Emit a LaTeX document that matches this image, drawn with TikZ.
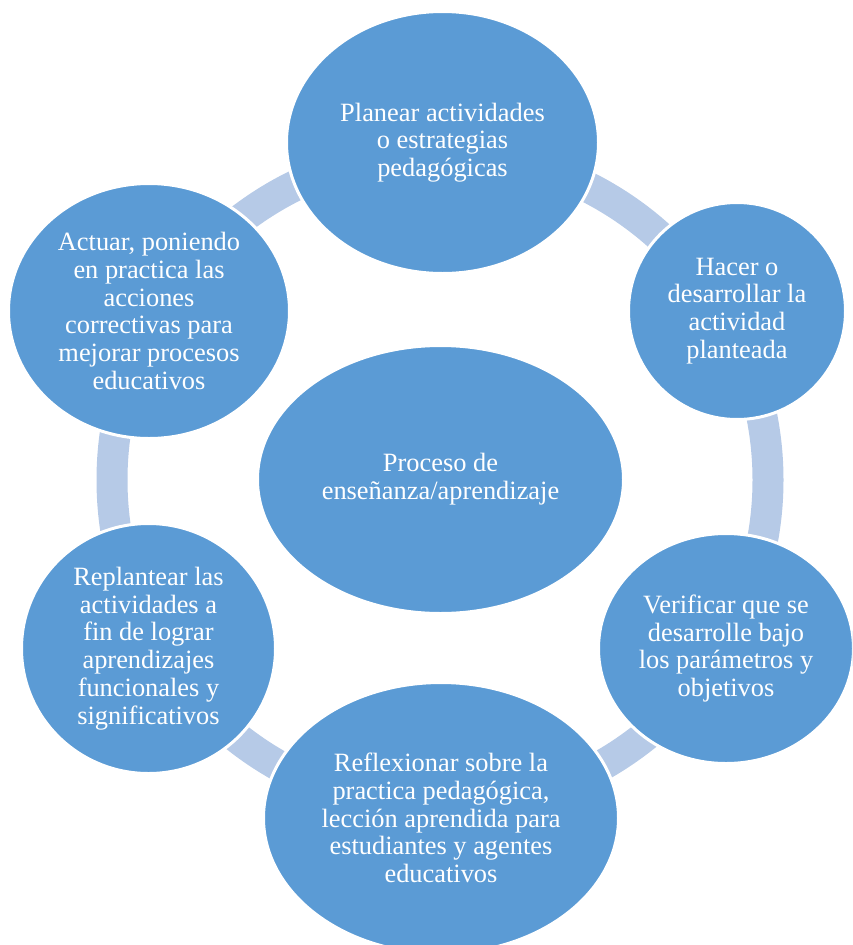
\documentclass[tikz,border=0pt]{standalone}
\usepackage{fontspec}
\setmainfont{Liberation Serif}
\usetikzlibrary{shapes.geometric}
\definecolor{stepblue}{HTML}{5B9BD5}
\definecolor{ringblue}{HTML}{B6CAE7}
\begin{document}
\begin{tikzpicture}[x=1pt,y=-1pt,
  stage/.style={ellipse, fill=stepblue, draw=white, line width=3pt, inner sep=0pt, outer sep=0pt,
    text=white, align=center, font=\fontsize{26.4}{27.8}\selectfont},
  ringline/.style={draw=ringblue, line width=31pt}]
\useasboundingbox (0,0) rectangle (852,945);
\clip (0,0) rectangle (852,945);
\coordinate (ringc) at (440,480);
\draw[ringline] (ringc) circle[radius=328];
\node[stage, minimum width=366, minimum height=268] (centro) at (440.5,479.5) {Proceso de\\enseñanza/aprendizaje};
\node[stage, minimum width=312, minimum height=262] (planear) at (442.5,142.5) {Planear actividades\\o estrategias\\pedagógicas};
\node[stage, minimum width=217, minimum height=217] (hacer) at (737,311) {Hacer o\\desarrollar la\\actividad\\planteada};
\node[stage, minimum width=255, minimum height=230] (verificar) at (726,648.5) {Verificar que se\\desarrolle bajo\\los parámetros y\\objetivos};
\node[stage, minimum width=355, minimum height=271] (reflexionar) at (441,818) {Reflexionar sobre la\\practica pedagógica,\\lección aprendida para\\estudiantes y agentes\\educativos};
\node[stage, minimum width=254, minimum height=250] (replantear) at (148.5,648.5) {Replantear las\\actividades a\\fin de lograr\\aprendizajes\\funcionales y\\significativos};
\node[stage, minimum width=281, minimum height=255] (actuar) at (149,311) {Actuar, poniendo\\en practica las\\acciones\\correctivas para\\mejorar procesos\\educativos};
\end{tikzpicture}
\end{document}
